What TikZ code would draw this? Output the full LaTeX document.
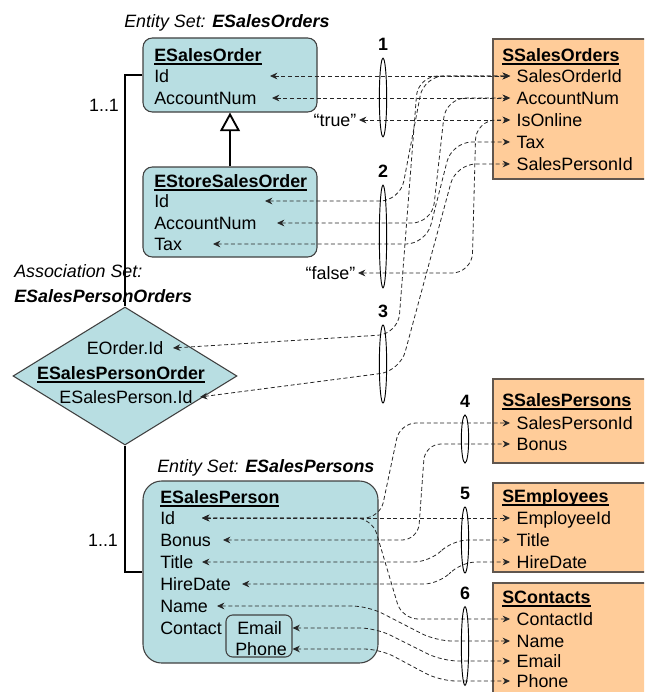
\documentclass[tikz,border=0pt]{standalone}
\usepackage{fontspec}
\setmainfont{Liberation Sans}
\usetikzlibrary{positioning,fit,shapes.geometric,arrows.meta}

\definecolor{entfill}{RGB}{184,222,226}
\definecolor{tabfill}{RGB}{255,204,153}
\definecolor{tabline}{RGB}{96,86,78}
\newcommand{\dfont}{\fontsize{13.4}{16}\selectfont}
\newcommand{\hdr}[1]{\setbox0=\hbox{\bfseries #1}\rlap{\rule[-2.6pt]{\wd0}{1.3pt}}\box0}

\tikzset{
  ent/.style={draw=black!75, fill=entfill, line width=0.8pt, rounded corners=7pt, inner sep=0pt},
  tab/.style={draw=tabline, fill=tabfill, line width=1pt, inner sep=0pt},
  attr/.style={anchor=west, inner sep=0pt, text height=9.6pt, text depth=0pt},
  col/.style={attr, outer xsep=5pt},
  grp/.style={draw, ellipse, inner sep=0pt, minimum width=5.5pt, line width=0.7pt},
  num/.style={font=\dfont\bfseries, inner sep=0pt},
  map/.style={<->, >={Stealth[length=5.5pt,width=5pt]}, dash pattern=on 3pt off 2pt, line width=0.6pt, black!85, rounded corners=12pt},
  assoc/.style={line width=1.6pt},
  isa/.style={line width=1.4pt, -{Triangle[open, length=14pt, width=15pt]}},
}

\begin{document}
\begin{tikzpicture}[x=0.75pt, y=-0.75pt, font=\dfont]
    \useasboundingbox (0,0) rectangle (644,692);
    \clip (0,0) rectangle (644,692);

    % conceptual side
    \node[attr, font=\dfont\itshape] (eso-set) at (124,21) {Entity Set: \textbf{ESalesOrders}};
    \node[ent, fit={(143,38) (317,112)}] (eso) {};
    \node[attr] (eso-t) at (154,55) {\hdr{ESalesOrder}};
    \node[attr] (eso-id) at (154,76) {Id};
    \node[attr] (eso-acc) at (154,98) {AccountNum};

    \node[ent, fit={(143,167) (317,257)}] (esso) {};
    \node[attr] (esso-t) at (154,181) {\hdr{EStoreSalesOrder}};
    \node[attr] (esso-id) at (154,201) {Id};
    \node[attr] (esso-acc) at (154,223) {AccountNum};
    \node[attr] (esso-tax) at (154,244) {Tax};
    \draw[isa] (esso.north) -- (eso.south);

    \node[attr, font=\dfont\itshape] (as-lbl) at (14,271) {Association Set:};
    \node[attr, font=\dfont\itshape\bfseries] (as-name) at (14,296) {ESalesPersonOrders};
    \node[draw=black!75, fill=entfill, diamond, line width=0.8pt, inner sep=0pt, minimum width=168pt, minimum height=103.5pt] (spo) at (125,376) {};
    \node[attr, anchor=center] (spo-oid) at (125,348) {EOrder.Id};
    \node[attr, anchor=center] (spo-t) at (121,373) {\hdr{ESalesPersonOrder}};
    \node[attr, anchor=center] (spo-spid) at (126,397) {ESalesPerson.Id};

    \node[attr, font=\dfont\itshape] (esp-set) at (157,466) {Entity Set: \textbf{ESalesPersons}};
    \node[ent, rounded corners=14pt, fit={(143,481) (378,663)}] (esp) {};
    \node[attr] (esp-t) at (160,497) {\hdr{ESalesPerson}};
    \node[attr] (esp-id) at (160,518) {Id};
    \node[attr] (esp-bon) at (160,540) {Bonus};
    \node[attr] (esp-tit) at (160,562) {Title};
    \node[attr] (esp-hd) at (160,584) {HireDate};
    \node[attr] (esp-name) at (160,606) {Name};
    \node[attr] (esp-con) at (160,628) {Contact};
    \node[ent, rounded corners=5pt, fit={(226,615) (292,657)}] (cbox) {};
    \node[attr] (esp-em) at (237,628) {Email};
    \node[attr] (esp-ph) at (235,649) {Phone};

    \node[attr, anchor=center] (m1) at (104,105) {1..1};
    \node[attr, anchor=center] (m2) at (103,540) {1..1};
    \draw[assoc] (eso.west) -| (spo.north);
    \draw[assoc] (spo.south) |- (esp.west);

    % store side
    \node[tab, fit={(493,39) (650,179)}] (sso) {};
    \node[attr] (sso-t) at (502,55) {\hdr{SSalesOrders}};
    \node[col] (sso-soid) at (510,76) {SalesOrderId};
    \node[col] (sso-acc) at (510,98) {AccountNum};
    \node[col] (sso-onl) at (510,120) {IsOnline};
    \node[col] (sso-tax) at (510,142) {Tax};
    \node[col] (sso-spid) at (510,164) {SalesPersonId};

    \node[tab, fit={(493,379) (650,463)}] (ssp) {};
    \node[attr] (ssp-t) at (502,400) {\hdr{SSalesPersons}};
    \node[col] (ssp-spid) at (510,423) {SalesPersonId};
    \node[col] (ssp-bon) at (510,444) {Bonus};

    \node[tab, fit={(493,483) (650,572)}] (sem) {};
    \node[attr] (sem-t) at (502,496) {\hdr{SEmployees}};
    \node[col] (sem-eid) at (510,518) {EmployeeId};
    \node[col] (sem-tit) at (510,540) {Title};
    \node[col] (sem-hd) at (510,562) {HireDate};

    \node[tab, fit={(493,583) (650,700)}] (sco) {};
    \node[attr] (sco-t) at (502,597) {\hdr{SContacts}};
    \node[col] (sco-cid) at (510,619) {ContactId};
    \node[col] (sco-name) at (510,641) {Name};
    \node[col] (sco-em) at (510,661) {Email};
    \node[col] (sco-ph) at (510,681) {Phone};

    \node[attr, anchor=east, outer xsep=2pt] (true) at (359,120) {“true”};
    \node[attr, anchor=east, outer xsep=2pt] (false) at (358,273) {“false”};

    % mapping fragments
    \draw[map] (270,0 |- eso-id) -- (sso-soid.west);
    \draw[map] (272,0 |- eso-acc) -- (sso-acc.west);
    \draw[map] (true.east) -- (sso-onl.west);

    \draw[map, rounded corners=15pt] (265,0 |- esso-id) -- (400,201) -- (424,76) -- (sso-soid.west);
    \draw[map, rounded corners=15pt] (277,0 |- esso-acc) -- (432,223) -- (446,98) -- (sso-acc.west);
    \draw[map, rounded corners=15pt] (213,0 |- esso-tax) -- (426,244) -- (452,142) -- (sso-tax.west);
    \draw[map, rounded corners=15pt] (false.east) -- (472,273) -- (476,120) -- (sso-onl.west);

    \draw[map, rounded corners=15pt] (173,0 |- spo-oid) -- (398,334) -- (418,76) -- (sso-soid.west);
    \draw[map, rounded corners=15pt] (200,0 |- spo-spid) -- (400,371) -- (456,164) -- (sso-spid.west);

    \draw[map] (202,0 |- esp-id) -- (380,518) -- (400,423) -- (ssp-spid.west);
    \draw[map] (223,0 |- esp-bon) -- (418,540) -- (425,444) -- (ssp-bon.west);

    \draw[map] (202,0 |- esp-id) -- (sem-eid.west);
    \draw[map] (202,0 |- esp-tit) -- (430,562) -- (452,540) -- (sem-tit.west);
    \draw[map] (242,0 |- esp-hd) -- (440,584) -- (460,562) -- (sem-hd.west);

    \draw[map] (202,0 |- esp-id) -- (372,518) -- (402,619) -- (sco-cid.west);
    \draw[map] (217,0 |- esp-name) -- (368,606) -- (436,641) -- (sco-name.west);
    \draw[map] (cbox.east |- esp-em) -- (376,628) -- (442,661) -- (sco-em.west);
    \draw[map] (cbox.east |- esp-ph) -- (380,649) -- (440,681) -- (sco-ph.west);

    % fragment groups
    \node[grp, minimum height=59pt] (g1) at (383,97.5) {};
    \node[num, above=5pt of g1] (n1) {1};
    \node[grp, minimum height=77pt] (g2) at (383,236.5) {};
    \node[num, above=5pt of g2] (n2) {2};
    \node[grp, minimum height=58.5pt] (g3) at (383,364) {};
    \node[num, above=5pt of g3] (n3) {3};
    \node[grp, minimum height=36pt] (g4) at (465,439) {};
    \node[num, above=5pt of g4] (n4) {4};
    \node[grp, minimum height=49.5pt] (g5) at (465,540) {};
    \node[num, above=5pt of g5] (n5) {5};
    \node[grp, minimum height=59pt] (g6) at (465,646) {};
    \node[num, above=5pt of g6] (n6) {6};
\end{tikzpicture}
\end{document}
